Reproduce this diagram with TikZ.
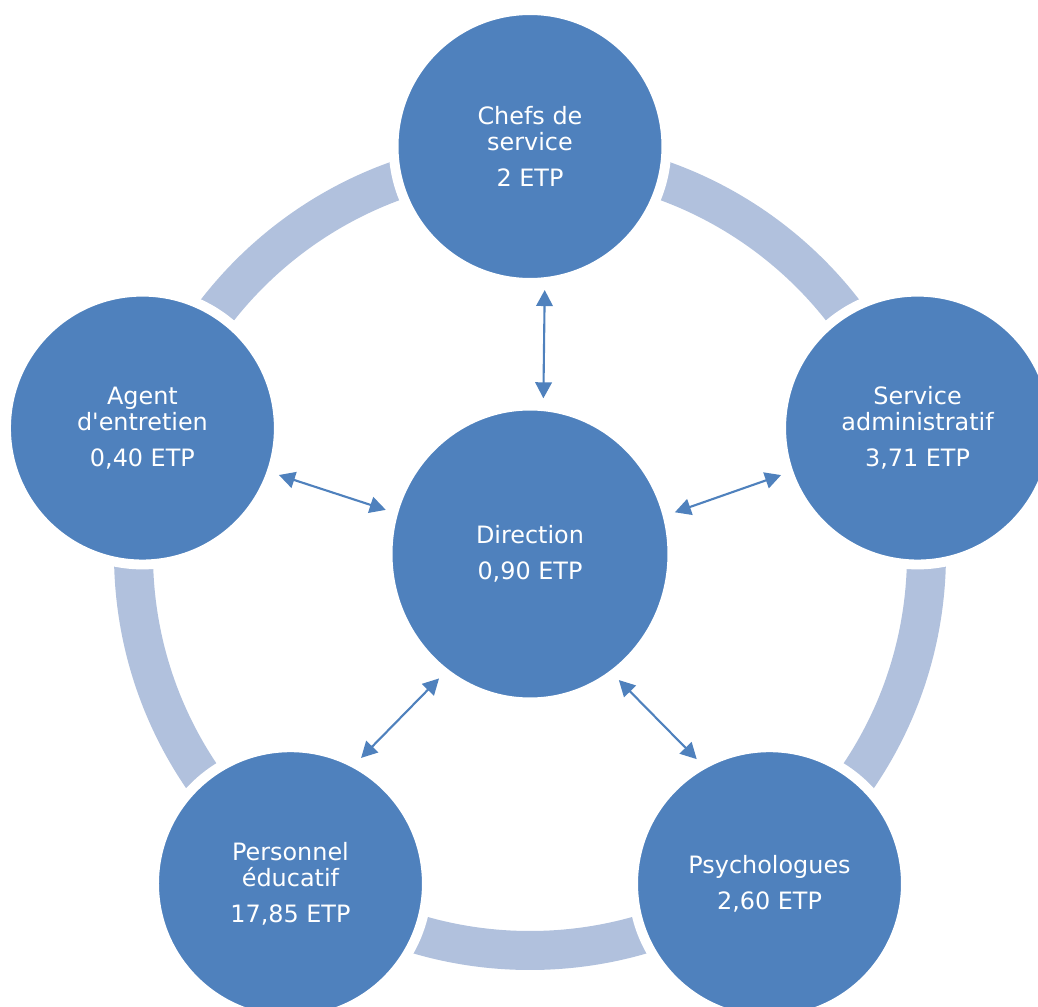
\documentclass[tikz,border=0pt]{standalone}
\usepackage{fontspec}
\setmainfont{DejaVu Sans}
\usepackage{xcolor}
\usetikzlibrary{arrows.meta, shapes.geometric}
\definecolor{unitblue}{RGB}{79,129,189}
\definecolor{ringblue}{RGB}{177,193,221}

\begin{document}
\begin{tikzpicture}
      [inner sep=0mm,
       font=\fontsize{6.8}{7.4}\selectfont,
       unit/.style={circle,fill=unitblue,draw=white,line width=2.8pt,minimum size=2.728cm,text=white,align=center},
       head/.style={ellipse,fill=unitblue,draw=white,line width=2.8pt,minimum width=2.848cm,minimum height=2.968cm,text=white,align=center},
       ring/.style={draw=ringblue,line width=3.9mm},
       link/.style={<->,>={Triangle[length=1.6mm,width=1.65mm]},draw=unitblue,line width=0.6pt,shorten <=0.3mm,shorten >=0.3mm}]
        \useasboundingbox (-5.30,-4.53) rectangle (5.08,5.54);
        \draw[ring] (0,0) circle (3.965);

        \node (D) at (0,0) [head] {Direction\\[2.85pt]0,90 ETP};
        \node (C) at (90:4.075) [unit] {Chefs de\\service\\[2.85pt]2 ETP};
        \node (S) at (18:4.075) [unit] {Service\\administratif\\[2.85pt]3,71 ETP};
        \node (P) at (-54:4.075) [unit] {Psychologues\\[2.85pt]2,60 ETP};
        \node (PE) at (-126:4.075) [unit] {Personnel\\éducatif\\[2.85pt]17,85 ETP};
        \node (A) at (162:4.075) [unit] {Agent\\d\textquotesingle entretien\\[2.85pt]0,40 ETP};

        \draw[link] (D.85) -- (C.-84.6);
        \draw[link] (D.16) -- (S.199);
        \draw[link] (D.-55) -- (P.120);
        \draw[link] (D.-126) -- (PE.61);
        \draw[link] (D.163) -- (A.-19);
      \end{tikzpicture}
\end{document}
